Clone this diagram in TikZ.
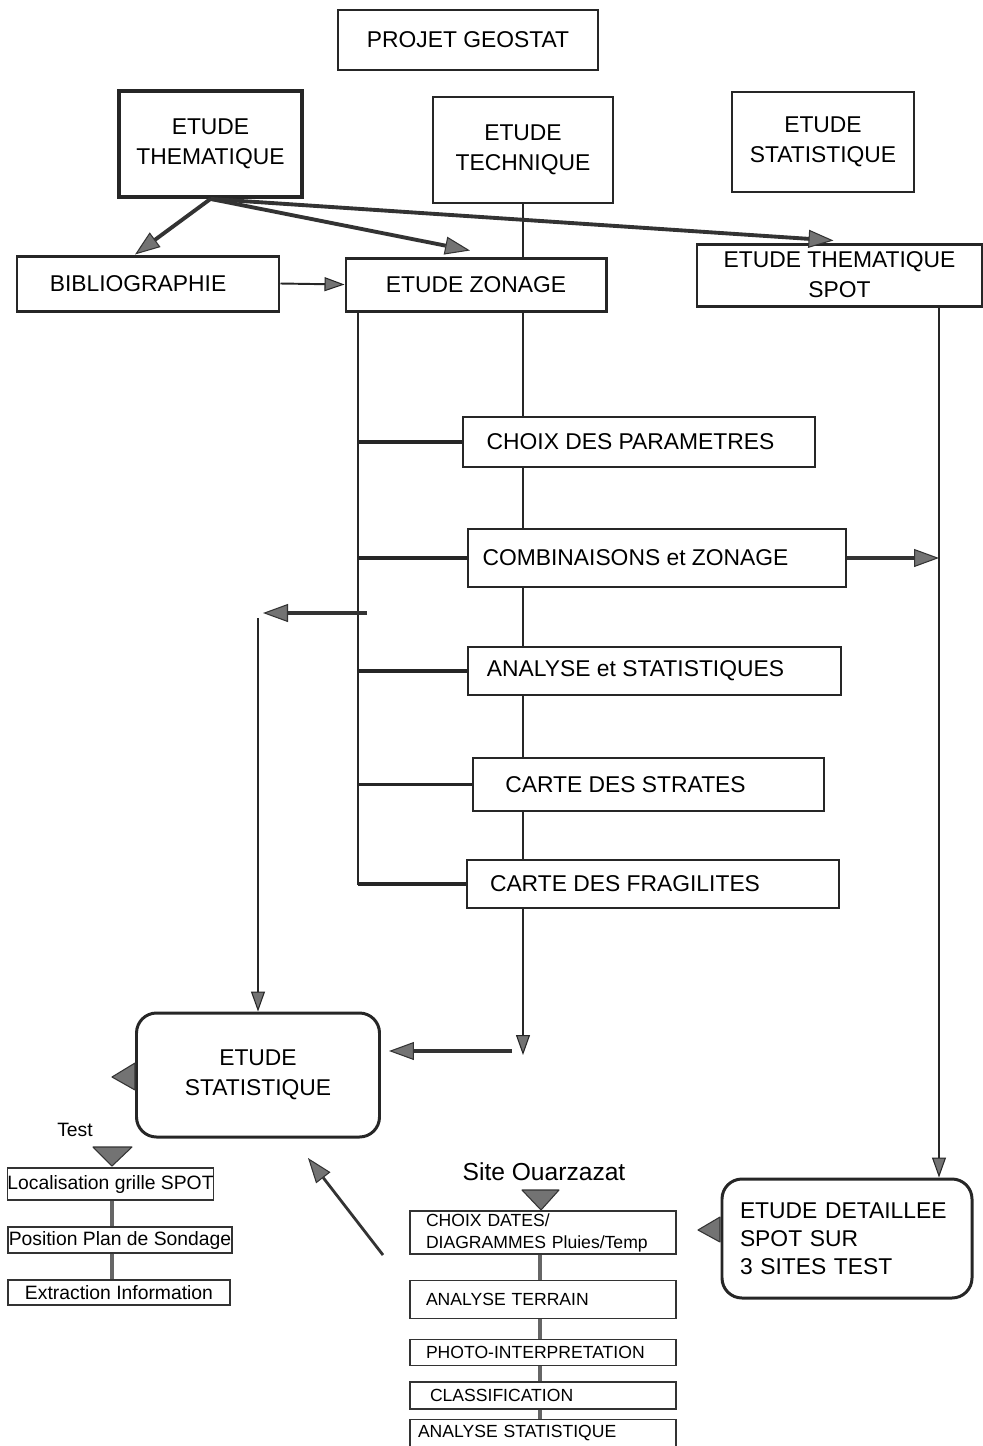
\documentclass[tikz,border=0pt]{standalone}
\usepackage[svgnames]{xcolor}
\usepackage{fontspec}
\setmainfont{Liberation Sans}
\usetikzlibrary{arrows.meta, positioning, backgrounds, calc}

\tikzset{
  boite/.style={draw=black!85, fill=white, line width=1.1pt, inner sep=0pt, align=center, font=\fontsize{13}{17}\selectfont},
  boitegrasse/.style={boite, line width=2.2pt},
  petite/.style={draw=black!80, fill=white, line width=0.8pt, inner sep=0pt, font=\fontsize{11}{13}\selectfont},
  site/.style={draw=black!80, fill=white, line width=0.8pt, inner xsep=3.2mm, inner ysep=0pt, text width=46.8mm, align=left, font=\fontsize{10}{12.5}\selectfont},
  trait/.style={draw=black!85, line width=1.1pt},
  branche/.style={draw=black!85, line width=1.8pt},
  liaison/.style={draw=black!60, line width=2.8pt},
  pointe/.style={draw=black!80, fill=black!55, line width=0.6pt, line join=round},
  fleche/.style={draw=black!80, line width=2.2pt, -{Triangle[length=5mm, width=3.6mm, fill=black!55, line width=0.6pt]}},
  flechefine/.style={trait, -{Triangle[length=4mm, width=2.8mm, fill=black!55, line width=0.6pt]}},
}

\begin{document}
\begin{tikzpicture}[x=0.2mm, y=-0.2mm]
    \useasboundingbox (0,0) rectangle (982,1446); % page = reference pixels
    % haut
    \node[boite, minimum width=52mm, minimum height=12mm] (projet) at (468,40) {PROJET GEOSTAT};
    \node[boitegrasse, minimum width=36.6mm, minimum height=21.2mm] (them) at (210.5,144) {ETUDE\\THEMATIQUE};
    \node[boite, minimum width=36mm, minimum height=21.2mm] (techn) at (523,150) {ETUDE\\TECHNIQUE};
    \node[boite, minimum width=36.4mm, minimum height=20mm] (statg) at (823,142) {ETUDE\\STATISTIQUE};
    \node[boite, line width=1.7pt, minimum width=52.4mm, minimum height=11mm] (biblio) at (148,283.5) {BIBLIOGRAPHIE\hspace*{4mm}};
    \node[boite, line width=1.7pt, minimum width=52mm, minimum height=10.6mm] (zonage) at (476,284.5) {ETUDE ZONAGE};
    \node[boite, line width=1.7pt, minimum width=57mm, minimum height=12.4mm] (spot) at (839.5,275) {ETUDE THEMATIQUE\\SPOT};
    % colonne du milieu
    \node[boite, minimum width=70.4mm, minimum height=10mm] (choix) at (639,442) {CHOIX DES PARAMETRES\hspace*{3.4mm}};
    \node[boite, minimum width=75.6mm, minimum height=11.6mm] (comb) at (657,558) {COMBINAISONS et ZONAGE\hspace*{8.6mm}};
    \node[boite, minimum width=74.6mm, minimum height=9.6mm] (analyse) at (654.5,671) {ANALYSE et STATISTIQUES\hspace*{7.6mm}};
    \node[boite, minimum width=70.2mm, minimum height=10.6mm] (strates) at (648.5,784.5) {CARTE DES STRATES\hspace*{9.2mm}};
    \node[boite, minimum width=74.4mm, minimum height=9.6mm] (frag) at (653,884) {CARTE DES FRAGILITES\hspace*{11.2mm}};
    % bas
    \node[boite, rounded corners=4mm, line width=1.7pt, minimum width=48.6mm, minimum height=24.8mm] (stat) at (258,1075) {ETUDE\\STATISTIQUE};
    \node[boite, rounded corners=4mm, line width=1.7pt, minimum height=23.8mm, inner xsep=3.6mm, text width=42.8mm, align=left, font=\fontsize{13}{16}\selectfont] (detail) at (847,1238.5) {ETUDE DETAILLEE\\SPOT SUR\\3 SITES TEST};
    \node[font=\fontsize{11}{13}\selectfont] (test) at (75,1130) {Test};
    \node[petite, minimum width=41mm, minimum height=6.4mm] (loc) at (110.5,1184) {Localisation grille SPOT};
    \node[petite, minimum width=44.8mm, minimum height=5.2mm] (pos) at (120,1240) {Position Plan de Sondage};
    \node[petite, minimum width=44.4mm, minimum height=5mm] (ext) at (119,1292.5) {Extraction Information};
    \node[font=\fontsize{14}{16}\selectfont] (site) at (544,1172) {Site Ouarzazat};
    \node[site, minimum height=8.6mm] (choixd) at (543,1232.5) {CHOIX DATES/\\DIAGRAMMES Pluies/Temp};
    \node[site, minimum height=7.6mm] (terrain) at (543,1299.5) {ANALYSE TERRAIN};
    \node[site, minimum height=5.2mm] (photo) at (543,1352.5) {PHOTO-INTERPRETATION};
    \node[site, minimum height=5.4mm] (classif) at (543,1395.5) {\hspace*{0.8mm}CLASSIFICATION};
    \node[site, minimum height=5.4mm] (anstat) at (543,1433) {\hspace*{-1.6mm}ANALYSE STATISTIQUE};

    \begin{scope}[on background layer]
    \draw[trait] (techn.south) -- (techn.south |- frag.south); % ligne centrale
    \draw[trait] (358,0 |- zonage.south) -- (358,0 |- frag.west) -- (frag.west);
    \foreach \b in {choix, comb, analyse, strates, frag}
        \draw[branche] (358,0 |- \b.west) -- (\b.west);
    \draw[liaison] (112,0 |- loc.south) -- (112,0 |- ext.north);
    \draw[liaison] (540,0 |- choixd.south) -- (540,0 |- anstat.north);
    \end{scope}

    % fleches
    \draw[fleche] (them.south) -- ([xshift=-2.6mm]biblio.north);
    \draw[fleche] (them.south) -- ([xshift=-1.2mm, yshift=1.2mm]zonage.north);
    \draw[fleche] (them.south) -- ([xshift=-1.2mm, yshift=0.4mm]spot.north);
    \draw[flechefine] (biblio.east) -- (zonage.west);
    \draw[fleche] (comb.east) -- (939,0 |- comb.east);
    \draw[flechefine] (939,0 |- spot.south) -- (939,0 |- detail.north);
    \coordinate (coude) at (367,613);
    \draw[fleche] (coude) -- ++(-104,0);
    \coordinate (haut) at (258,618);
    \draw[flechefine] (haut) -- (stat.north);
    \coordinate (bas) at (523,1055);
    \draw[flechefine] (techn.south |- frag.south) -- (bas);
    \coordinate (retour) at (512,1051);
    \draw[fleche, shorten >=1.6mm] (retour) -- (stat.east |- retour);
    \coordinate (diag) at (383,1255);
    \draw[fleche, line width=1.6pt] (diag) -- ++(-75,-97);

    % pointes seules
    \draw[pointe] (93,1147) -- (132,1147) -- (112,1166) -- cycle; % sous Test
    \draw[pointe] (522,1190) -- (559,1190) -- (541,1210) -- cycle; % sous Site
    \draw[pointe] (135,1063) -- (135,1090) -- (112,1077) -- cycle;
    \draw[pointe] (720,1217) -- (720,1242) -- (698,1230) -- cycle;
\end{tikzpicture}
\end{document}
